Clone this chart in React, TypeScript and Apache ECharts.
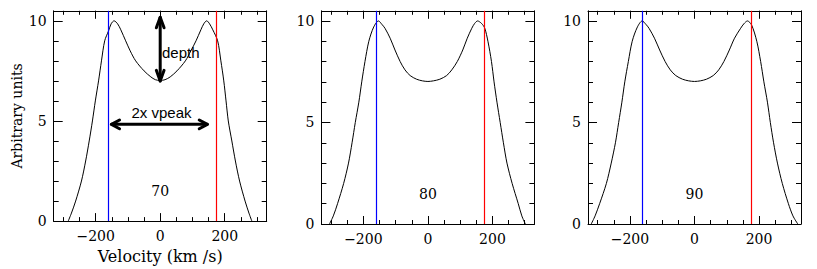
import React, { useEffect, useRef } from "react";
import * as echarts from "echarts";

const panelLabels = ["70", "80", "90"];

const vel70 = [-285, -275, -262, -244, -231, -220, -210, -201, -191, -182, -172, -160, -152, -143, -132, -122, -107, -93, -76, -50, -29, -15, 0, 15, 31, 52, 78, 95, 111, 126, 135, 144, 153, 163, 178, 188, 197, 204, 211, 222, 233, 246, 263, 275, 284];
const flux70 = [0, 0.4, 1, 2, 3, 4, 5, 6, 7, 8, 9, 9.5, 9.85, 10, 9.85, 9.55, 9, 8.5, 8, 7.5, 7.2, 7.06, 7.02, 7.06, 7.2, 7.5, 8, 8.5, 9, 9.55, 9.85, 10, 9.85, 9.55, 9, 8, 7, 6, 5, 4, 3, 2, 1, 0.4, 0];

const vel80 = [-305, -293, -280, -261, -246, -235, -225, -214, -205, -195, -183, -168, -153, -143, -133, -117, -102, -86, -71, -55, -35, -17, 0, 17, 37, 58, 74, 91, 108, 122, 136, 145, 154, 166, 176, 186, 197, 205, 214, 224, 234, 245, 261, 280, 291, 302];
const flux80 = [0, 0.4, 1, 2, 3, 4, 5, 6, 7, 8, 9, 9.7, 10, 9.84, 9.64, 9.15, 8.57, 8.0, 7.59, 7.31, 7.13, 7.05, 7.02, 7.05, 7.13, 7.31, 7.59, 8.0, 8.57, 9.15, 9.64, 9.88, 10, 9.88, 9.65, 9, 8, 7, 6, 5, 4, 3, 2, 1, 0.4, 0];

const vel90 = [-320, -308, -294, -273, -258, -245, -235, -225, -216, -205, -193, -177, -162, -151, -141, -124, -108, -91, -75, -58, -37, -18, 0, 18, 37, 58, 75, 91, 108, 124, 143, 153, 164, 177, 193, 205, 215, 226, 235, 245, 257, 272, 291, 305, 320];
const flux90 = [0, 0.4, 1, 2, 3, 4, 5, 6, 7, 8, 9, 9.7, 10, 9.84, 9.64, 9.15, 8.57, 8.0, 7.59, 7.31, 7.13, 7.05, 7.02, 7.05, 7.13, 7.31, 7.59, 8.0, 8.57, 9.15, 9.64, 9.86, 10, 9.8, 9, 8, 7, 6, 5, 4, 3, 2, 1, 0.4, 0];

const blueLines = [-160, -159, -161];
const redLines = [175, 176, 177];

const xMajorTicks = [-200, 0, 200];
const xMinorTicks = [-300, -250, -200, -150, -100, -50, 0, 50, 100, 150, 200, 250, 300];
const yMajorTicks = [0, 5, 10];
const yMinorTicks = [0, 1, 2, 3, 4, 5, 6, 7, 8, 9, 10];

// annotation arrows in panel 1 (data units)
const depthArrowShaft = [[0, 10.18], [0, 7.0]];
const depthArrowTop = [[-12, 9.65], [0, 10.18], [12, 9.65]];
const depthArrowBottom = [[-12, 7.53], [0, 7.0], [12, 7.53]];
const vpeakArrowShaft = [[-151, 4.83], [146, 4.83]];
const vpeakArrowLeft = [[-126, 5.05], [-151, 4.83], [-126, 4.61]];
const vpeakArrowRight = [[121, 5.05], [146, 4.83], [121, 4.61]];

const panels = [
  { vel: vel70, flux: flux70 },
  { vel: vel80, flux: flux80 },
  { vel: vel90, flux: flux90 },
];

const gridLefts = [53.7, 321.4, 588];
const SERIF = "DejaVu Serif";

export default function App() {
  const ref = useRef<HTMLDivElement>(null);
  useEffect(() => {
    if (!ref.current) return;
    const chart = echarts.init(ref.current, null, { renderer: "svg" });
    const grids: any[] = [];
    const xAxes: any[] = [];
    const yAxes: any[] = [];
    const series: any[] = [];
    const black = "#000";
    const fmt = (v: number) => String(v).replace("-", "\u2212");
    const lineOn = { show: true, onZero: false, lineStyle: { color: black, width: 1 } };
    const lineOff = { show: false, onZero: false };

    panels.forEach((p, i) => {
      grids.push({ left: gridLefts[i], top: 10.8, width: 213, height: 213.2, containLabel: false });
      const xBase = { type: "value", gridIndex: i, min: -330, max: 330, splitLine: { show: false } };
      xAxes.push({
        ...xBase,
        position: "bottom",
        axisLine: lineOn,
        axisTick: { show: true, inside: true, length: 8, customValues: xMajorTicks, lineStyle: { color: black } },
        axisLabel: { show: true, customValues: xMajorTicks, formatter: fmt, color: black, fontFamily: SERIF, fontSize: 14, margin: 8 },
        name: i === 0 ? "Velocity (km /s)" : "",
        nameLocation: "middle",
        nameGap: 24,
        nameTextStyle: { fontFamily: SERIF, fontSize: 16, color: black },
      });
      xAxes.push({
        ...xBase,
        position: "bottom",
        axisLine: lineOff,
        axisTick: { show: true, inside: true, length: 4, customValues: xMinorTicks, lineStyle: { color: black } },
        axisLabel: { show: false },
      });
      xAxes.push({
        ...xBase,
        position: "top",
        axisLine: lineOn,
        axisTick: { show: true, inside: true, length: 8, customValues: xMajorTicks, lineStyle: { color: black } },
        axisLabel: { show: false },
      });
      xAxes.push({
        ...xBase,
        position: "top",
        axisLine: lineOff,
        axisTick: { show: true, inside: true, length: 4, customValues: xMinorTicks, lineStyle: { color: black } },
        axisLabel: { show: false },
      });

      const yBase = { type: "value", gridIndex: i, min: 0, max: 10.5, splitLine: { show: false } };
      yAxes.push({
        ...yBase,
        position: "left",
        axisLine: lineOn,
        axisTick: { show: true, inside: true, length: 9, customValues: yMajorTicks, lineStyle: { color: black } },
        axisLabel: { show: true, customValues: yMajorTicks, color: black, fontFamily: SERIF, fontSize: 14, margin: 7 },
        name: i === 0 ? "Arbitrary units" : "",
        nameLocation: "middle",
        nameGap: 30,
        nameTextStyle: { fontFamily: SERIF, fontSize: 14, color: black },
      });
      yAxes.push({
        ...yBase,
        position: "left",
        axisLine: lineOff,
        axisTick: { show: true, inside: true, length: 5, customValues: yMinorTicks, lineStyle: { color: black } },
        axisLabel: { show: false },
      });
      yAxes.push({
        ...yBase,
        position: "right",
        axisLine: lineOn,
        axisTick: { show: true, inside: true, length: 9, customValues: yMajorTicks, lineStyle: { color: black } },
        axisLabel: { show: false },
      });
      yAxes.push({
        ...yBase,
        position: "right",
        axisLine: lineOff,
        axisTick: { show: true, inside: true, length: 5, customValues: yMinorTicks, lineStyle: { color: black } },
        axisLabel: { show: false },
      });

      const xi = i * 4;
      const yi = i * 4;
      series.push({
        type: "line",
        xAxisIndex: xi,
        yAxisIndex: yi,
        data: p.vel.map((v, k) => [v, p.flux[k]]),
        smooth: 0.3,
        symbol: "none",
        lineStyle: { color: black, width: 1 },
        markLine: {
          silent: true,
          symbol: "none",
          label: { show: false },
          data: [
            { xAxis: blueLines[i], lineStyle: { color: "#0000ff", width: 1.2, type: "solid" } },
            { xAxis: redLines[i], lineStyle: { color: "#ff0000", width: 1.2, type: "solid" } },
          ],
        },
      });
      series.push({
        type: "scatter",
        xAxisIndex: xi,
        yAxisIndex: yi,
        data: [[0, 1.5]],
        symbolSize: 1,
        itemStyle: { color: "rgba(0,0,0,0)", opacity: 1 },
        label: { show: true, position: "inside", formatter: panelLabels[i], color: black, fontFamily: SERIF, fontSize: 14 },
      });
    });

    const arrow = (d: number[][]) => ({
      type: "line",
      xAxisIndex: 0,
      yAxisIndex: 0,
      data: d,
      symbol: "none",
      lineStyle: { color: black, width: 3, cap: "round", join: "round" },
    });
    [depthArrowShaft, depthArrowTop, depthArrowBottom, vpeakArrowShaft, vpeakArrowLeft, vpeakArrowRight].forEach((d) =>
      series.push(arrow(d))
    );
    series.push({
      type: "scatter",
      xAxisIndex: 0,
      yAxisIndex: 0,
      data: [[5.6, 8.42]],
      symbolSize: 1,
      itemStyle: { color: "rgba(0,0,0,0)", opacity: 1 },
      label: { show: true, position: "inside", align: "left", verticalAlign: "middle", formatter: "depth", color: black, fontFamily: "Liberation Sans", fontSize: 15 },
    });
    series.push({
      type: "scatter",
      xAxisIndex: 0,
      yAxisIndex: 0,
      data: [[4, 5.44]],
      symbolSize: 1,
      itemStyle: { color: "rgba(0,0,0,0)", opacity: 1 },
      label: { show: true, position: "inside", align: "center", verticalAlign: "middle", formatter: "2x vpeak", color: black, fontFamily: "Liberation Sans", fontSize: 15 },
    });

    chart.setOption({
      animation: false,
      backgroundColor: "#fff",
      grid: grids,
      xAxis: xAxes,
      yAxis: yAxes,
      series,
    });
    return () => chart.dispose();
  }, []);
  return <div ref={ref} style={{ position: "fixed", left: 0, top: 0, width: 817, height: 269 }} />;
}
